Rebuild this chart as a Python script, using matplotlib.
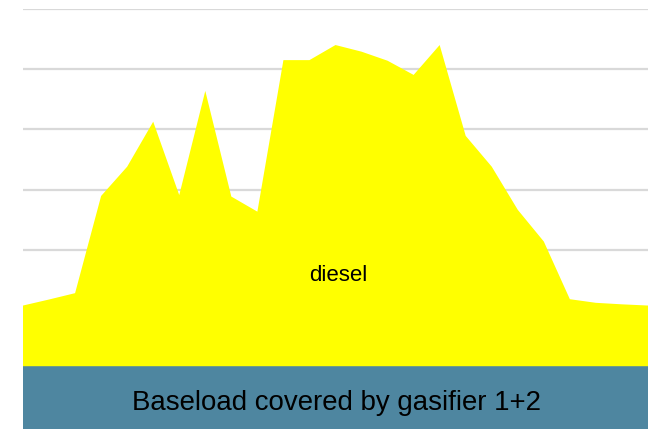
import matplotlib
matplotlib.use("Agg")
import matplotlib.pyplot as plt
import numpy as np

hours = list(range(25))
baseload = [21.5] * 25
total_load = [41.6, 43.6, 45.7, 77.9, 87.6, 102.5, 78.2, 112.7, 77.7, 72.7,
              122.9, 122.9, 127.9, 125.7, 122.7, 118.0, 127.9, 97.8, 87.6,
              73.3, 62.8, 43.7, 42.5, 42.0, 41.6]
diesel = [t - b for t, b in zip(total_load, baseload)]
gridlines = [20, 40, 60, 80, 100, 120, 140]

fig = plt.figure(figsize=(6.56, 4.29), dpi=100)
W, H = 656, 429
ax = fig.add_axes([23 / W, 0, (648 - 23) / W, 1 - 8.5 / H])
ax.set_xlim(hours[0], hours[-1])
ax.set_ylim(0.7, 140)
for g in gridlines:
    ax.axhline(g, color="#D9D9D9", lw=1.6, zorder=0)
ax.stackplot(hours, baseload, diesel, colors=["#4E86A0", "#FFFF00"], zorder=2, linewidth=0)
for s in ax.spines.values():
    s.set_visible(False)
ax.set_xticks([])
ax.set_yticks([])
ax.patch.set_alpha(0)

ax.text(12.1, 49.7, "diesel", ha="center", va="baseline", fontsize=16,
        family="Liberation Sans", color="black", zorder=3)
ax.text(12.05, 7.0, "Baseload covered by gasifier 1+2", ha="center", va="baseline",
        fontsize=19.9, family="Liberation Sans", color="black", zorder=3)

fig.savefig("out.png", dpi=100)
